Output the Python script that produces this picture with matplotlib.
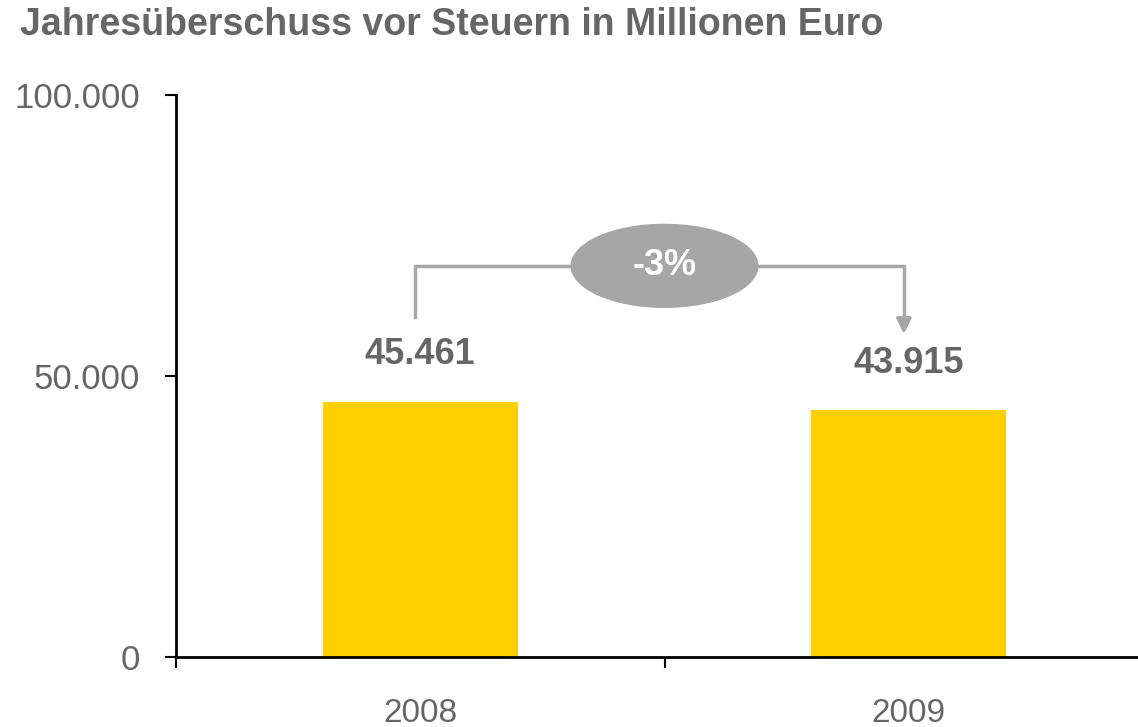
import matplotlib
matplotlib.use("Agg")
import matplotlib.pyplot as plt
from matplotlib.patches import Ellipse

years = ["2008", "2009"]
values = [45461, 43915]
value_labels = ["45.461", "43.915"]
change_label = "-3%"
y_ticks = [0, 50000, 100000]
y_tick_labels = ["0", "50.000", "100.000"]

plt.rcParams['font.family'] = ['Liberation Sans', 'DejaVu Sans']
grey = '#666666'
light = '#a6a6a6'

fig = plt.figure(figsize=(11.38, 7.27), dpi=100)
ax = fig.add_axes([0.1547, 0.0963, 0.8585, 0.773])
x = range(len(years))
ax.bar(x, values, width=0.4, color='#ffcf00', zorder=2)

ax.set_xlim(-0.5, 1.5)
ax.set_ylim(0, 100000)
ax.set_yticks(y_ticks)
ax.set_yticklabels(y_tick_labels, fontsize=25, color=grey)
ax.set_xticks([-0.5, 0.5, 1.5])
ax.set_xticklabels([])
for i, yr in enumerate(years):
    ax.text(i, -0.1, yr, transform=ax.get_xaxis_transform(), ha='center', va='center',
            fontsize=24, color=grey)
ax.tick_params(axis='both', length=8, width=1.5, color='black')
ax.tick_params(axis='y', pad=18)
for s in ['top', 'right']:
    ax.spines[s].set_visible(False)
for s in ['left', 'bottom']:
    ax.spines[s].set_linewidth(2)

# data labels
for i, (v, lab) in enumerate(zip(values, value_labels)):
    ax.text(i, v + 8300, lab, ha='center', va='center', fontsize=26,
            fontweight='bold', color=grey)

# change bracket
top = 69600
ax.plot([-0.01, -0.01, 0.99, 0.99], [60500, top, top, 59000], color=light, lw=2.5, zorder=3)
ax.annotate('', xy=(0.99, 57000), xytext=(0.99, 61000),
            arrowprops=dict(arrowstyle='-|>', color=light, lw=2.5, mutation_scale=22))
ax.add_patch(Ellipse((0.5, top), 0.385, 15000, facecolor=light, edgecolor='none', zorder=4))
ax.text(0.5, top, change_label, ha='center', va='center', fontsize=26,
        fontweight='bold', color='white', zorder=5)

fig.text(0.018, 0.966, "Jahresüberschuss vor Steuern in Millionen Euro", ha='left', va='center',
         fontsize=27, fontweight='bold', color=grey)

fig.savefig("out.png", dpi=100)
